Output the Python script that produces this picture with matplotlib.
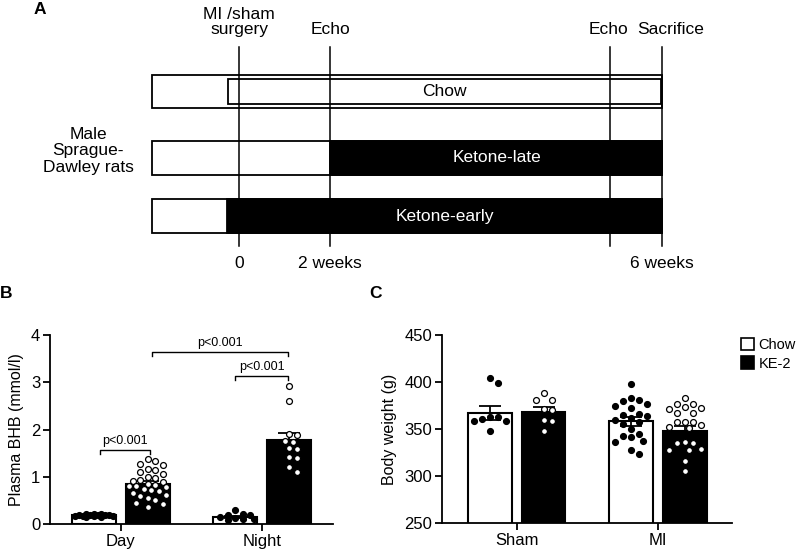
import numpy as np
import matplotlib
matplotlib.use("Agg")
import matplotlib.pyplot as plt
from matplotlib.patches import Rectangle, Patch

plt.rcParams['font.family'] = ['Liberation Sans', 'DejaVu Sans']

# ---- panel A: study design (schematic, not to scale) ----
diet_rows = ['Chow', 'Ketone-late', 'Ketone-early']
diet_start = [228, 330, 227]          # where the diet bar begins
event_labels = ['MI /sham\nsurgery', 'Echo', 'Echo', 'Sacrifice']
event_x = [239, 330, 610, 662]
week_labels = ['0', '2 weeks', '6 weeks']
week_x = [239, 330, 662]

# ---- panel B: plasma BHB ----
bhb_groups = ['Day', 'Night']
bhb_chow_mean = [0.18, 0.14]
bhb_chow_sem = [0.01, 0.02]
bhb_ke_mean = [0.85, 1.77]
bhb_ke_sem = [0.05, 0.16]
bhb_day_chow = [0.22, 0.21, 0.21, 0.20, 0.20, 0.19, 0.19, 0.18, 0.17, 0.17, 0.16, 0.15, 0.15, 0.16]
bhb_day_ke = [1.37, 1.33, 1.28, 1.25, 1.17, 1.15, 1.10, 1.05, 1.00, 0.97, 0.93, 0.92, 0.88, 0.85,
              0.82, 0.80, 0.80, 0.78, 0.75, 0.72, 0.70, 0.65, 0.62, 0.60, 0.55, 0.50, 0.45, 0.42, 0.35]
bhb_night_chow = [0.30, 0.22, 0.20, 0.18, 0.15, 0.12, 0.10, 0.10, 0.08]
bhb_night_ke = [2.92, 2.60, 1.90, 1.88, 1.75, 1.74, 1.60, 1.58, 1.41, 1.40, 1.20, 1.10]

# ---- panel C: body weight ----
bw_groups = ['Sham', 'MI']
bw_chow_mean = [367, 358]
bw_chow_sem = [7, 5]
bw_ke_mean = [368, 348]
bw_ke_sem = [5, 5]
bw_sham_chow = [404, 399, 363, 363, 361, 358, 358, 348]
bw_sham_ke = [388, 381, 381, 371, 370, 360, 358, 348]
bw_mi_chow = [398, 383, 381, 380, 377, 375, 372, 366, 365, 364, 362, 360, 357, 355, 350,
              345, 343, 341, 337, 336, 328, 323]
bw_mi_ke = [383, 377, 377, 373, 372, 371, 367, 367, 357, 357, 357, 354, 352, 351, 336,
            335, 335, 329, 328, 328, 316, 305]


def swarm(vals, xscale, yscale, d, maxw):
    """simple greedy beeswarm, offsets returned in data units"""
    vals = np.asarray(vals, float)
    xs = np.zeros(len(vals))
    cands = [0.0]
    k = 1
    while k * d * 0.5 <= maxw:
        cands += [k * d * 0.5, -k * d * 0.5]
        k += 1
    placed = []
    for i in np.argsort(-vals):
        y = vals[i] * yscale
        best, bestd = 0.0, -1
        for c in cands:
            md = min([np.hypot(c - px, y - py) for px, py in placed], default=1e9)
            if md >= d:
                best = c
                break
            if md > bestd:
                best, bestd = c, md
        xs[i] = best / xscale
        placed.append((best, y))
    return xs


fig = plt.figure(figsize=(8, 5.49), dpi=100)

# ================= A =================
ax_a = fig.add_axes([0, 1 - 280 / 549, 1, 280 / 549])
ax_a.set_xlim(0, 800)
ax_a.set_ylim(280, 0)
ax_a.axis('off')

row_top = [75, 141, 199]
row_h = [33, 34, 34]
box_left = 152
box_right = 662
for i, name in enumerate(diet_rows):
    ax_a.add_patch(Rectangle((box_left, row_top[i]), box_right - box_left, row_h[i],
                             facecolor='white', edgecolor='black', lw=1.3, zorder=2))
    if name == 'Chow':
        ax_a.add_patch(Rectangle((diet_start[i], row_top[i] + 4), box_right - diet_start[i] - 1,
                                 row_h[i] - 8, facecolor='white', edgecolor='black', lw=1.3, zorder=3))
        tc = 'black'
    else:
        ax_a.add_patch(Rectangle((diet_start[i], row_top[i]), box_right - diet_start[i], row_h[i],
                                 facecolor='black', edgecolor='black', lw=1.3, zorder=3))
        tc = 'white'
    tx = {'Chow': 444, 'Ketone-late': 497, 'Ketone-early': 445}[name]
    ax_a.text(tx, row_top[i] + row_h[i] / 2, name, color=tc, fontsize=12.5,
              ha='center', va='center', zorder=5)

for x in event_x:
    ax_a.plot([x, x], [47, 246], color='black', lw=1.1, zorder=4)

label_x = [239, 330, 608, 671]
for lab, x in zip(event_labels, label_x):
    ax_a.text(x, 37, lab, fontsize=12.5, ha='center', va='bottom', linespacing=1.0)
for lab, x in zip(week_labels, week_x):
    ax_a.text(x, 263, lab, fontsize=12.5, ha='center', va='center')

ax_a.text(88, 151, 'Male\nSprague-\nDawley rats', fontsize=12.5, ha='center', va='center',
          linespacing=1.15)
ax_a.text(40, 9, 'A', fontsize=12.5, fontweight='bold', ha='center', va='center')


def bar_panel(ax, groups, chow_mean, chow_sem, ke_mean, ke_sem, points, yscale, d):
    xc = np.arange(len(groups))
    off = 0.19
    w = 0.31
    ax.bar(xc - off, chow_mean, w, color='white', edgecolor='black', lw=1.5, zorder=2)
    ax.bar(xc + off, ke_mean, w, color='black', edgecolor='black', lw=1.5, zorder=2)
    ax.errorbar(xc - off, chow_mean, yerr=chow_sem, fmt='none', ecolor='black',
                elinewidth=1.3, capsize=8, capthick=1.3, zorder=3)
    ax.errorbar(xc + off, ke_mean, yerr=ke_sem, fmt='none', ecolor='black',
                elinewidth=1.3, capsize=8, capthick=1.3, zorder=3)
    for gi in range(len(groups)):
        for si, (sign, fc) in enumerate([(-1, 'black'), (1, 'white')]):
            vals = points[gi][si]
            xo = swarm(vals, 141, yscale, d, 20)
            ax.scatter(xc[gi] + sign * off + xo, vals, s=18, facecolor=fc,
                       edgecolor='black', lw=0.9, zorder=4, clip_on=False)
    ax.set_xticks(xc)
    ax.set_xticklabels(groups)
    ax.spines['top'].set_visible(False)
    ax.spines['right'].set_visible(False)
    for s in ['left', 'bottom']:
        ax.spines[s].set_linewidth(1.3)
    ax.tick_params(width=1.3, length=5, labelsize=12, pad=2)


# ================= B =================
ax_b = fig.add_axes([50 / 800, 1 - 524 / 549, 283 / 800, 189 / 549])
bar_panel(ax_b, bhb_groups, bhb_chow_mean, bhb_chow_sem, bhb_ke_mean, bhb_ke_sem,
          [[bhb_day_chow, bhb_day_ke], [bhb_night_chow, bhb_night_ke]], 47.3, 7.5)
ax_b.set_xlim(-0.5, 1.5)
ax_b.set_ylim(0, 4)
ax_b.set_yticks([0, 1, 2, 3, 4])
ax_b.set_ylabel('Plasma BHB (mmol/l)', fontsize=11.5, labelpad=5)

brackets = [(-0.15, 0.21, 1.56), (0.81, 1.18, 3.13), (0.22, 1.18, 3.64)]
for x0, x1, y in brackets:
    ax_b.plot([x0, x0, x1, x1], [y - 0.08, y, y, y - 0.08], color='black', lw=1.0)
    ax_b.text((x0 + x1) / 2, y + 0.06, 'p<0.001', fontsize=9, ha='center', va='bottom')
fig.text(6 / 800, 1 - 293 / 549, 'B', fontsize=12.5, fontweight='bold', ha='center', va='center')

# ================= C =================
ax_c = fig.add_axes([442 / 800, 1 - 523 / 549, 290 / 800, 188 / 549])
bar_panel(ax_c, bw_groups, bw_chow_mean, bw_chow_sem, bw_ke_mean, bw_ke_sem,
          [[bw_sham_chow, bw_sham_ke], [bw_mi_chow, bw_mi_ke]], 0.94, 8)
ax_c.set_xlim(-0.53, 1.525)
ax_c.set_ylim(250, 450)
ax_c.set_yticks([250, 300, 350, 400, 450])
ax_c.set_ylabel('Body weight (g)', fontsize=11.5, labelpad=5)
fig.text(376 / 800, 1 - 293 / 549, 'C', fontsize=12.5, fontweight='bold', ha='center', va='center')

handles = [Patch(facecolor='white', edgecolor='black', lw=1.2),
           Patch(facecolor='black', edgecolor='black', lw=1.2)]
fig.legend(handles, ['Chow', 'KE-2'], loc='upper left', bbox_to_anchor=(741 / 800, 1 - 338 / 549),
           frameon=False, fontsize=10.5, handlelength=0.9, handleheight=0.9,
           handletextpad=0.3, labelspacing=0.3, borderpad=0, borderaxespad=0)

fig.savefig('out.png', dpi=100, facecolor='white')
